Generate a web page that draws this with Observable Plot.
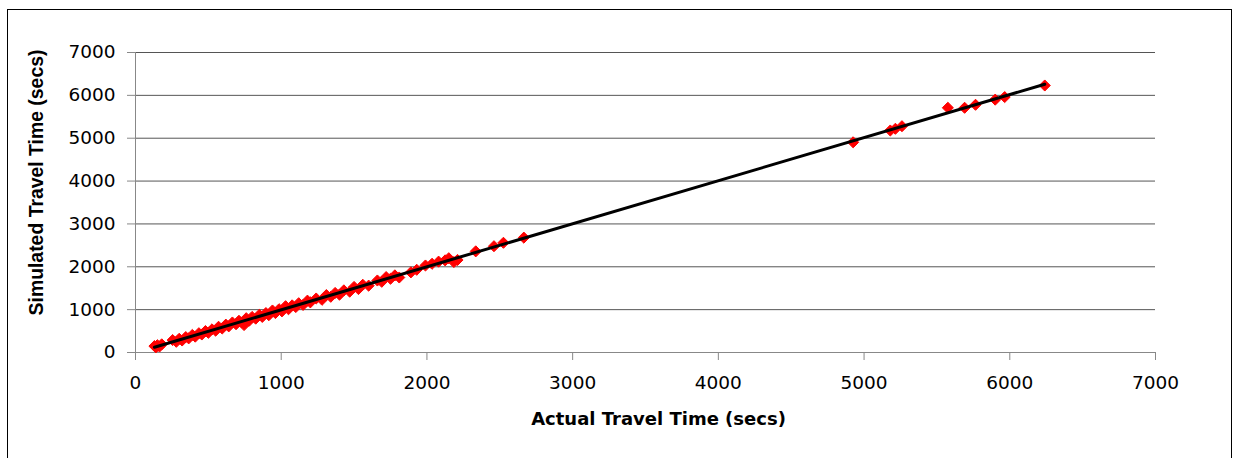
<!DOCTYPE html>
<html>
<head>
<meta charset="utf-8">
<script src="https://cdn.jsdelivr.net/npm/d3@7"></script>
<script src="https://cdn.jsdelivr.net/npm/@observablehq/plot@0.6"></script>
<style>
  html, body { margin: 0; padding: 0; background: #fff; overflow: hidden; }
  #wrap { position: relative; width: 1235px; height: 458px; }
  #border { position: absolute; left: 7px; top: 9px; width: 1225px; height: 470px; border: 1px solid #000; pointer-events: none; box-sizing: border-box; }
</style>
</head>
<body>
<div id="wrap"><div id="chart"></div><div id="border"></div></div>
<script>
const actual = [130, 140, 150, 165, 180,
  255, 280, 300, 320, 345, 365, 390, 410, 435, 455, 480, 500, 525, 550, 570, 595, 620, 640, 665, 690, 710, 730, 745, 760, 780,
  800, 825, 850, 870, 895, 915, 940, 960, 985, 1005, 1030, 1050, 1075, 1100, 1120, 1150, 1180, 1200, 1240, 1280,
  1310, 1340, 1370, 1400, 1430, 1470, 1500, 1530, 1560, 1600, 1660, 1690, 1720, 1750, 1780, 1810,
  1890, 1930, 1990, 2035, 2080, 2125, 2150, 2185, 2210, 2335, 2460, 2525, 2665,
  4925, 5180, 5215, 5260, 5575, 5690, 5765, 5900, 5965, 6240];
const simulated = [150, 120, 170, 140, 190,
  290, 250, 320, 280, 360, 330, 410, 370, 450, 420, 500, 460, 540, 510, 600, 560, 650, 610, 700, 660, 740, 700, 640, 800, 740,
  830, 790, 880, 830, 920, 870, 980, 920, 1010, 960, 1080, 1010, 1100, 1060, 1150, 1110, 1210, 1170, 1260, 1230,
  1340, 1300, 1390, 1350, 1450, 1420, 1530, 1480, 1580, 1560, 1680, 1650, 1760, 1720, 1800, 1750,
  1870, 1930, 2030, 2070, 2120, 2150, 2200, 2110, 2160, 2360, 2480, 2560, 2680,
  4905, 5180, 5220, 5280, 5710, 5710, 5780, 5900, 5960, 6230];
const xTicks = [0, 1000, 2000, 3000, 4000, 5000, 6000, 7000];
const yTicks = [0, 1000, 2000, 3000, 4000, 5000, 6000, 7000];
const xTitle = "Actual Travel Time (secs)";
const yTitle = "Simulated Travel Time (secs)";

const data = actual.map((a, i) => ({actual: a, simulated: simulated[i]}));

const chart = Plot.plot({
  width: 1235,
  height: 458,
  marginLeft: 135,
  marginRight: 80,
  marginTop: 52,
  marginBottom: 106,
  x: {domain: [0, 7000]},
  y: {domain: [0, 7000]},
  style: {fontFamily: "DejaVu Sans", fontSize: "18.5px", color: "#000", background: "transparent", overflow: "visible"},
  marks: [
    Plot.gridY(yTicks, {stroke: "#555", strokeOpacity: 1}),
    Plot.ruleY([0], {stroke: "#888"}),
    Plot.ruleX([0], {stroke: "#888"}),
    Plot.axisY(yTicks, {tickSize: 8, tickPadding: 12, tickFormat: d => String(d), stroke: "#888", fill: "#000", label: null}),
    Plot.axisX(xTicks, {tickSize: 8, tickPadding: 15, tickFormat: d => String(d), stroke: "#888", fill: "#000", label: null}),
    Plot.dot(data, {x: "actual", y: "simulated", symbol: "diamond2", r: 5, fill: "#ff0000", stroke: "#ff0000", strokeWidth: 1}),
    Plot.linearRegressionY(data, {x: "actual", y: "simulated", ci: 0, stroke: "#000", strokeWidth: 3}),
    Plot.text([xTitle], {frameAnchor: "bottom", dx: 13, dy: 67, textAnchor: "middle", lineAnchor: "middle", fontWeight: "bold", fontSize: 18, fontFamily: "DejaVu Sans", fill: "#000"}),
    Plot.text([yTitle], {frameAnchor: "left", rotate: -90, dx: -99, dy: -20, textAnchor: "middle", lineAnchor: "middle", fontWeight: "bold", fontSize: 19.4, fontFamily: "Liberation Sans", fill: "#000"})
  ]
});
document.getElementById("chart").appendChild(chart);
</script>
</body>
</html>
